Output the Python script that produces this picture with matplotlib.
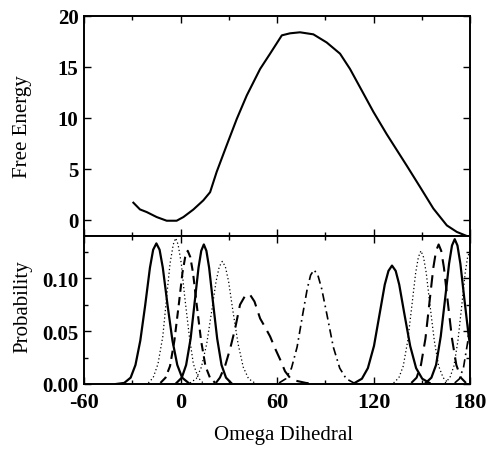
import matplotlib
matplotlib.use("Agg")
import matplotlib.pyplot as plt
from matplotlib.ticker import MultipleLocator

# ---- Top panel: free energy profile ----
fe_angle = [-29.3, -25.2, -21, -14.8, -8.6, -2.4, 1.8, 8, 14.2, 18.4, 22.5, 28.7, 35, 41.2,
            49.5, 55.7, 63, 68.1, 74.3, 82.6, 90.9, 99.2, 105.4, 113.7, 119.9, 128.2,
            140.7, 149, 157.2, 165.6, 171.8, 178, 180]
fe_value = [1.67, 1.01, 0.75, 0.26, -0.1, -0.1, 0.26, 1.0, 1.9, 2.7, 4.7, 7.3, 9.9, 12.2,
            14.8, 16.3, 18.1, 18.3, 18.4, 18.2, 17.4, 16.3, 14.8, 12.4, 10.6, 8.4,
            5.3, 3.2, 1.1, -0.56, -1.2, -1.6, -1.7]

# ---- Bottom panel: probability distributions of each window ----
w1_x = [-40, -35, -31, -28, -25, -22, -19, -17, -15, -13, -11, -8, -5, -2, 1, 5]
w1_y = [0, 0.001, 0.006, 0.018, 0.041, 0.074, 0.110, 0.127, 0.133, 0.127, 0.110, 0.074, 0.041, 0.018, 0.006, 0.001]

w2_x = [-20, -17, -14, -11, -8.5, -6.5, -4.5, -3, -1.5, 0.5, 2.5, 5.5, 8, 11, 14]
w2_y = [0.001, 0.006, 0.019, 0.045, 0.084, 0.114, 0.132, 0.138, 0.132, 0.114, 0.084, 0.045, 0.019, 0.006, 0.001]

w3_x = [-12.5, -9.3, -6.5, -3.8, -1, 1.2, 2.9, 4.5, 6.1, 7.8, 10, 12.8, 15.5, 18.3, 21.6]
w3_y = [0.001, 0.006, 0.017, 0.041, 0.076, 0.105, 0.120, 0.126, 0.120, 0.105, 0.076, 0.041, 0.017, 0.006, 0.001]

w4_x = [-2.5, 0.8, 3.5, 6.3, 9, 11.2, 12.9, 14.5, 16.1, 17.8, 20, 22.8, 25.5, 28.3, 31.5]
w4_y = [0.001, 0.006, 0.018, 0.043, 0.080, 0.110, 0.126, 0.132, 0.126, 0.110, 0.080, 0.043, 0.018, 0.006, 0.001]

w5_x = [5.9, 9.8, 13, 16.3, 19.5, 22.1, 24.1, 26, 27.9, 29.9, 32.5, 35.8, 39, 42.3, 46.2]
w5_y = [0.001, 0.005, 0.016, 0.038, 0.070, 0.097, 0.111, 0.116, 0.111, 0.097, 0.070, 0.038, 0.016, 0.005, 0.001]

w6_x = [22, 24.5, 27.7, 30.8, 33.9, 37, 40, 43, 46, 49.5, 52.5, 55.7, 59, 62, 65, 68, 72, 78, 84]
w6_y = [0.001, 0.006, 0.017, 0.033, 0.052, 0.075, 0.083, 0.085, 0.078, 0.062, 0.054, 0.045, 0.033, 0.023, 0.012, 0.006, 0.003, 0.001, 0]

w7_x = [61.3, 65.5, 69, 72.5, 76, 78.8, 80.9, 83, 85.4, 87.8, 91, 95, 99, 103, 107.8]
w7_y = [0.001, 0.005, 0.015, 0.035, 0.066, 0.090, 0.103, 0.108, 0.103, 0.090, 0.066, 0.035, 0.015, 0.005, 0.001]

w8_x = [108.3, 112.8, 116.5, 120.3, 124, 127, 129.3, 131.5, 133.8, 136, 139, 142.8, 146.5, 150.3, 154.8]
w8_y = [0.001, 0.005, 0.015, 0.036, 0.068, 0.094, 0.107, 0.112, 0.107, 0.094, 0.068, 0.036, 0.015, 0.005, 0.001]

w9_x = [132.5, 135.8, 138.5, 141.3, 144, 146.2, 147.9, 149.5, 151.1, 152.8, 155, 157.8, 160.5, 163.3, 166.5]
w9_y = [0.001, 0.006, 0.017, 0.041, 0.076, 0.105, 0.120, 0.126, 0.120, 0.105, 0.076, 0.041, 0.017, 0.006, 0.001]

w10_x = [143.5, 146.8, 149.5, 152.3, 155, 157.2, 158.9, 160.5, 162.1, 163.8, 166, 168.8, 171.5, 174.3, 177.5]
w10_y = [0.001, 0.006, 0.018, 0.043, 0.080, 0.110, 0.126, 0.132, 0.126, 0.110, 0.080, 0.043, 0.018, 0.006, 0.001]

w11_x = [152.5, 156, 158.9, 161.8, 164.7, 167, 168.8, 170.5, 172.2, 174, 176.3, 179.2, 182.1, 185, 188.5]
w11_y = [0.001, 0.006, 0.018, 0.045, 0.083, 0.114, 0.131, 0.137, 0.131, 0.114, 0.083, 0.045, 0.018, 0.006, 0.001]

w12_x = [164.5, 167.5, 170, 172.5, 175, 177, 178.5, 180, 181.5, 183, 185]
w12_y = [0.001, 0.006, 0.017, 0.041, 0.076, 0.105, 0.120, 0.126, 0.120, 0.105, 0.076]

w13_x = [170.5, 173.5, 176, 178.5, 181, 183, 184.5, 186]
w13_y = [0.001, 0.005, 0.016, 0.039, 0.073, 0.100, 0.115, 0.120]

windows = [
    (w1_x, w1_y, "solid"), (w2_x, w2_y, "dotted"), (w3_x, w3_y, "dashed"),
    (w4_x, w4_y, "solid"), (w5_x, w5_y, "dotted"), (w6_x, w6_y, "dashed_long"),
    (w7_x, w7_y, "dashdot"), (w8_x, w8_y, "solid"), (w9_x, w9_y, "dotted"),
    (w10_x, w10_y, "dashed_long"), (w11_x, w11_y, "solid"), (w12_x, w12_y, "dotted"),
    (w13_x, w13_y, "dashdot"),
]

x_ticks = [-60, 0, 60, 120, 180]
x_tick_labels = ["-60", "0", "60", "120", "180"]
fe_ticks = [0, 5, 10, 15, 20]
prob_ticks = [0.00, 0.05, 0.10]
prob_tick_labels = ["0.00", "0.05", "0.10"]

plt.rcParams["font.family"] = ["Liberation Serif", "DejaVu Serif"]
plt.rcParams["font.size"] = 14

W, H = 487, 452
fig = plt.figure(figsize=(W / 100, H / 100), dpi=100)
ax1 = fig.add_axes([84 / W, 1 - 237 / H, 386 / W, 220 / H])
ax2 = fig.add_axes([84 / W, 1 - 385 / H, 386 / W, 148 / H])

styles = {
    "solid": dict(linestyle="-", linewidth=1.6),
    "dotted": dict(linestyle=(0, (1, 2)), linewidth=0.9),
    "dashed": dict(linestyle=(0, (4, 2.5)), linewidth=1.5),
    "dashed_long": dict(linestyle=(0, (6, 3.5)), linewidth=1.5),
    "dashdot": dict(linestyle=(0, (5, 2.5, 1, 2.5)), linewidth=1.2),
}

ax1.plot(fe_angle, fe_value, color="black", linewidth=1.5)
ax1.set_xlim(-60, 180)
ax1.set_ylim(-1.6, 20)
ax1.set_yticks(fe_ticks)
ax1.set_xticks(x_ticks)
ax1.xaxis.set_minor_locator(MultipleLocator(30))
ax1.tick_params(axis="x", labelbottom=False)

for xs, ys, st in windows:
    ax2.plot(xs, ys, color="black", **styles[st])
ax2.set_xlim(-60, 180)
ax2.set_ylim(0, 0.14)
ax2.set_xticks(x_ticks)
ax2.set_xticklabels(x_tick_labels)
ax2.xaxis.set_minor_locator(MultipleLocator(30))
ax2.set_yticks(prob_ticks)
ax2.set_yticklabels(prob_tick_labels)
ax2.yaxis.set_minor_locator(MultipleLocator(0.025))

for ax in (ax1, ax2):
    ax.tick_params(which="both", direction="in", top=True, right=True)
    ax.tick_params(which="major", length=5, width=1)
    ax.tick_params(which="minor", length=3, width=1)
    ax.tick_params(axis="y", labelsize=15, pad=4)
    ax.tick_params(axis="x", labelsize=16, pad=6)
    for lab in ax.get_xticklabels() + ax.get_yticklabels():
        lab.set_fontweight("bold")
    for s in ax.spines.values():
        s.set_linewidth(1.4)

fig.text(23 / W, 1 - 127 / H, "Free Energy", rotation=90, ha="center", va="center", fontsize=15)
fig.text(23 / W, 1 - 307 / H, "Probability", rotation=90, ha="center", va="center", fontsize=15)
fig.text(283 / W, 1 - 436 / H, "Omega Dihedral", ha="center", va="center", fontsize=15)

fig.savefig("out.png", dpi=100)
